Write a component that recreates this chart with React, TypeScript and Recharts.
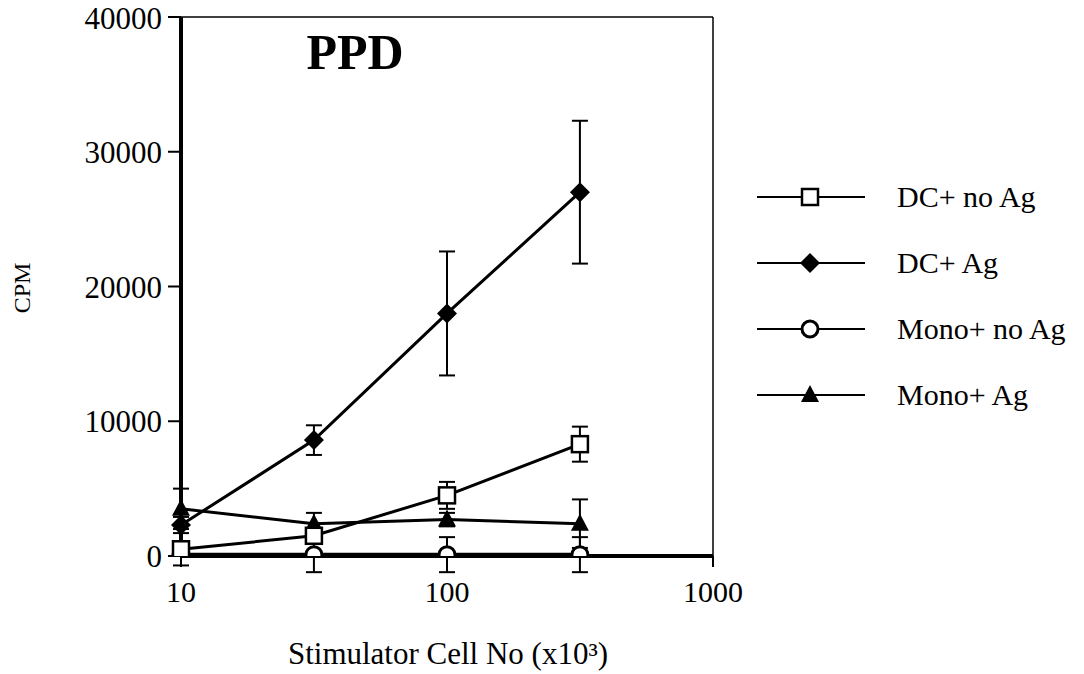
import React from "react";
import { LineChart, Line, XAxis, YAxis, ErrorBar, ReferenceLine, Label } from "recharts";

const cellNumbers = [10, 31.6, 100, 316];
const seriesNames = ["DC+ no Ag", "DC+ Ag", "Mono+ no Ag", "Mono+ Ag"];
const dcNoAg = [500, 1500, 4500, 8300];
const dcNoAgErr = [300, 400, 1000, 1300];
const dcAg = [2300, 8600, 18000, 27000];
const dcAgErr = [600, 1100, 4600, 5300];
const monoNoAg = [100, 100, 100, 100];
const monoNoAgErr = [800, 1300, 1300, 1300];
const monoAg = [3500, 2400, 2700, 2400];
const monoAgErr = [1500, 800, 500, 1800];
const xTicks = [10, 100, 1000];
const yTicks = [0, 10000, 20000, 30000, 40000];

const data = cellNumbers.map((x, i) => ({
    x,
    dcNoAg: dcNoAg[i],
    dcNoAgErr: dcNoAgErr[i],
    dcAg: dcAg[i],
    dcAgErr: dcAgErr[i],
    monoNoAg: monoNoAg[i],
    monoNoAgErr: monoNoAgErr[i],
    monoAg: monoAg[i],
    monoAgErr: monoAgErr[i],
}));

const FONT = "'Liberation Serif', 'Times New Roman', serif";

function marker(kind: string, cx: number, cy: number, key?: string) {
    if (kind === "square") {
        return <rect key={key} x={cx - 8} y={cy - 8} width={16} height={16} fill="#fff" stroke="#000" strokeWidth={2.5} />;
    }
    if (kind === "diamond") {
        return <path key={key} d={`M${cx},${cy - 10} L${cx + 10},${cy} L${cx},${cy + 10} L${cx - 10},${cy} Z`} fill="#000" />;
    }
    if (kind === "circle") {
        return <circle key={key} cx={cx} cy={cy} r={8} fill="#fff" stroke="#000" strokeWidth={3} />;
    }
    return <path key={key} d={`M${cx},${cy - 10} L${cx + 9},${cy + 7} L${cx - 9},${cy + 7} Z`} fill="#000" />;
}

const dotOf = (kind: string) => (props: any) => {
    const { cx, cy, index } = props;
    if (cx == null || cy == null) return <g key={`n-${index}`} />;
    return marker(kind, cx, cy, `${kind}-${index}`);
};

const markerKinds = ["square", "diamond", "circle", "triangle"];

function LegendBox() {
    return (
        <svg width={334} height={260} style={{ position: "absolute", left: 750, top: 160 }}>
            {seriesNames.map((name, i) => {
                const y = 37 + i * 66;
                return (
                    <g key={name}>
                        <line x1={7} x2={115} y1={y} y2={y} stroke="#000" strokeWidth={2} />
                        {marker(markerKinds[i], 60, y)}
                        <text x={147} y={y + 10} fontFamily={FONT} fontSize={30} fill="#000">{name}</text>
                    </g>
                );
            })}
        </svg>
    );
}

export default function App() {
    return (
        <div style={{ position: "absolute", left: 0, top: 0, width: 1084, height: 674, background: "#fff" }}>
            <LineChart width={1084} height={674} data={data} margin={{ top: 17, right: 371, bottom: 0, left: 0 }}>
                <XAxis
                    dataKey="x"
                    type="number"
                    scale="log"
                    domain={[10, 1000]}
                    ticks={xTicks}
                    height={118}
                    stroke="#000"
                    strokeWidth={4}
                    tickSize={11}
                    tickMargin={14}
                    tickLine={{ stroke: "#000", strokeWidth: 2 }}
                    tick={{ fill: "#000", fontSize: 30, fontFamily: FONT }}
                >
                    <Label
                        content={() => (
                            <text x={448} y={664} textAnchor="middle" fontFamily={FONT} fontSize={31} fill="#000">
                                Stimulator Cell No (x10³)
                            </text>
                        )}
                    />
                </XAxis>
                <YAxis
                    type="number"
                    domain={[0, 40000]}
                    allowDataOverflow
                    ticks={yTicks}
                    width={181}
                    stroke="#000"
                    strokeWidth={4}
                    tickSize={13}
                    tickMargin={6}
                    tickLine={{ stroke: "#000", strokeWidth: 2 }}
                    tick={{ fill: "#000", fontSize: 31, fontFamily: FONT }}
                >
                    <Label
                        content={() => (
                            <text x={30} y={288} transform="rotate(-90 30 288)" textAnchor="middle" fontFamily={FONT} fontSize={24} fill="#000">
                                CPM
                            </text>
                        )}
                    />
                </YAxis>
                <ReferenceLine y={40000} stroke="#000" strokeWidth={1.5} />
                <ReferenceLine x={1000} stroke="#000" strokeWidth={1.5} />
                <Line dataKey="monoNoAg" stroke="#000" strokeWidth={4} dot={dotOf("circle")} isAnimationActive={false}>
                    <ErrorBar dataKey="monoNoAgErr" direction="y" width={8} stroke="#000" strokeWidth={2} />
                </Line>
                <Line dataKey="monoAg" stroke="#000" strokeWidth={3} dot={dotOf("triangle")} isAnimationActive={false}>
                    <ErrorBar dataKey="monoAgErr" direction="y" width={8} stroke="#000" strokeWidth={2} />
                </Line>
                <Line dataKey="dcNoAg" stroke="#000" strokeWidth={3} dot={dotOf("square")} isAnimationActive={false}>
                    <ErrorBar dataKey="dcNoAgErr" direction="y" width={8} stroke="#000" strokeWidth={2} />
                </Line>
                <Line dataKey="dcAg" stroke="#000" strokeWidth={3} dot={dotOf("diamond")} isAnimationActive={false}>
                    <ErrorBar dataKey="dcAgErr" direction="y" width={8} stroke="#000" strokeWidth={2} />
                </Line>
            </LineChart>
            <div style={{ position: "absolute", left: 250, top: 16, width: 210, textAlign: "center", fontFamily: FONT, fontWeight: "bold", fontSize: 50, lineHeight: "72px", color: "#000" }}>
                PPD
            </div>
            <LegendBox />
        </div>
    );
}
